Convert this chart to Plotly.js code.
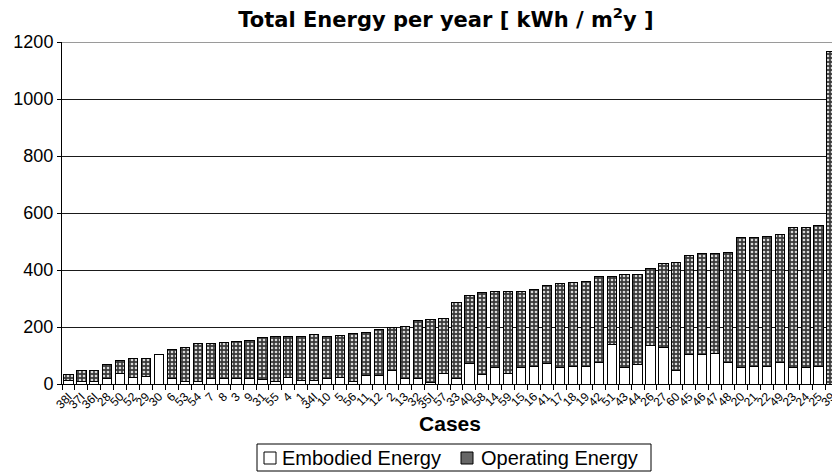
<!DOCTYPE html>
<html>
<head>
<meta charset="utf-8">
<script src="https://cdn.plot.ly/plotly-3.0.1.min.js"></script>
<style>
html,body{margin:0;padding:0;background:#fff;overflow:hidden;width:832px;height:473px;}
#chart{width:838px;height:473px;}
</style>
</head>
<body>
<div id="chart"></div>
<script>
const cases = ["38I","37I","36I","28","50","52","29","30","6","53","54","7","8","3","9","31","55","4","1","34I","10","5","56","11","12","2","13","32","35I","57","33","40","58","14","59","15","16","41","17","18","19","42","51","43","44","26","27","60","45","46","47","48","20","21","22","49","23","24","25","39"];
const embodied = [14,8,8,20,37,23,26,103,20,10,8,20,20,20,20,16,10,22,14,12,20,23,8,30,30,47,21,20,6,37,19,71,35,57,37,58,61,71,58,61,63,76,140,58,70,135,129,48,102,102,108,76,57,60,61,75,57,57,63,0];
const operating = [19,38,39,50,47,65,65,0,102,119,135,123,124,129,134,148,155,145,153,161,148,148,169,151,161,150,180,202,220,192,266,239,286,268,288,268,269,275,294,296,296,301,237,325,313,269,295,377,348,355,349,387,456,455,458,449,493,493,492,1168];
const yTicks = [0,200,400,600,800,1000,1200];
const seriesNames = ["Embodied Energy", "Operating Energy"];

const FONT = "Liberation Sans, Arial, sans-serif";
// The original picture is cut at its right edge through the last bar; the figure is
// laid out a little wider than the 832px window and the page clips it the same way.
const W = 838, H = 473;
const M = {l: 62, r: 0, t: 42, b: 89};

const opPattern = {shape: ".", fgcolor: "#d8d8d8", bgcolor: "#3a3a3a", size: 4, solidity: 0.35};

const traces = [
  {
    type: "bar", name: seriesNames[0], x: cases, y: embodied, showlegend: false,
    marker: {color: "#ffffff", line: {color: "#000", width: 1}}
  },
  {
    type: "bar", name: seriesNames[1], x: cases, y: operating, showlegend: false,
    marker: {color: "#444", line: {color: "#000", width: 1}, pattern: opPattern}
  }
];

// helpers: pixel -> paper coordinates (for the boxed legend below the axis)
const pw = W - M.l - M.r, ph = H - M.t - M.b;
const px = v => (v - M.l) / pw;
const py = v => (H - M.b - v) / ph;

const shapes = [
  // lighter top gridline, as in the reference
  {type: "line", xref: "paper", yref: "y", x0: 0, x1: 1, y0: yTicks[yTicks.length - 1], y1: yTicks[yTicks.length - 1], line: {color: "#9a9a9a", width: 2}, layer: "above"},
  // legend frame
  {type: "rect", xref: "paper", yref: "paper", x0: px(257), x1: px(651), y0: py(471), y1: py(444), line: {color: "#000", width: 1}, fillcolor: "rgba(0,0,0,0)"},
  // legend swatches
  {type: "rect", xref: "paper", yref: "paper", x0: px(264), x1: px(276), y0: py(464), y1: py(452), line: {color: "#000", width: 1}, fillcolor: "#ffffff"},
  {type: "rect", xref: "paper", yref: "paper", x0: px(461), x1: px(473), y0: py(464), y1: py(452), line: {color: "#000", width: 1}, fillcolor: "#666666"}
];

const annotations = [
  {text: seriesNames[0], xref: "paper", yref: "paper", x: px(280), y: py(458), xanchor: "left", yanchor: "middle",
   showarrow: false, font: {size: 20, family: FONT}},
  {text: seriesNames[1], xref: "paper", yref: "paper", x: px(479), y: py(458), xanchor: "left", yanchor: "middle",
   showarrow: false, font: {size: 20, family: FONT}}
];

const layout = {
  width: W, height: H,
  margin: M,
  paper_bgcolor: "#fff", plot_bgcolor: "#fff",
  barmode: "stack", bargap: 0.28,
  font: {family: FONT, color: "#000"},
  title: {text: "<b>Total Energy per year [ kWh / m<sup>2</sup>y ]</b>", x: px(446), xref: "paper", xanchor: "center", y: 0.958, yref: "container", yanchor: "middle", font: {size: 21, family: "DejaVu Sans, sans-serif"}},
  showlegend: false,
  xaxis: {
    type: "category", range: [-0.5, cases.length - 0.5], autorange: false,
    tickmode: "linear", tick0: 0, dtick: 1,
    tickangle: -45, tickfont: {size: 12, family: FONT},
    ticks: "outside", tickson: "boundaries", ticklen: 5, tickcolor: "#000",
    showline: true, linecolor: "#000", linewidth: 1, showgrid: false,
    title: {text: "<b>Cases</b>", font: {size: 21, family: FONT}, standoff: 4},
    automargin: false, fixedrange: true
  },
  yaxis: {
    range: [0, 1200], autorange: false, tickvals: yTicks,
    tickfont: {size: 18, family: FONT},
    ticks: "outside", ticklen: 4, tickcolor: "#000",
    showline: true, linecolor: "#000", linewidth: 1,
    showgrid: true, gridcolor: "#1a1a1a", gridwidth: 1, zeroline: false,
    automargin: false, fixedrange: true
  },
  shapes: shapes,
  annotations: annotations
};

Plotly.newPlot("chart", traces, layout, {displayModeBar: false, staticPlot: true});
</script>
</body>
</html>
